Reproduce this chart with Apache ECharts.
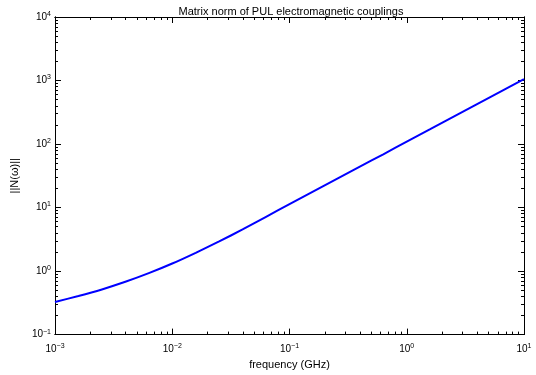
<!DOCTYPE html>
<html>
<head>
<meta charset="utf-8">
<script src="https://cdn.jsdelivr.net/npm/echarts@6/dist/echarts.min.js"></script>
<style>
  html, body { margin: 0; padding: 0; background: #fff; }
  #chart { width: 536px; height: 375px; }
</style>
</head>
<body>
<div id="chart"></div>
<script>
// frequency (GHz) and matrix norm values
const freq = [0.001, 0.001585, 0.002512, 0.003981, 0.00631, 0.01, 0.01585, 0.02512, 0.03981,
  0.0631, 0.1, 0.1585, 0.2512, 0.3981, 0.631, 1, 1.585, 2.512, 3.981, 6.31, 10];
const norm = [0.327, 0.405, 0.514, 0.678, 0.927, 1.315, 1.94, 2.93, 4.52,
  7.16, 11.3, 17.8, 28, 44, 69, 109, 171, 270, 425, 668, 1050];

// tick values
const xMajor = [0.001, 0.01, 0.1, 1, 10];
const yMajor = [0.1, 1, 10, 100, 1000, 10000];

const font = "'Liberation Sans', Arial, sans-serif";

// 2..9 x each decade between the major ticks
const minorOf = majors => {
  const out = [];
  for (let i = 0; i < majors.length - 1; i++) {
    for (let k = 2; k <= 9; k++) out.push(+(majors[i] * k).toPrecision(6));
  }
  return out;
};

const supLabel = v => {
  const e = Math.round(Math.log10(v));
  return "10{sup|" + (e < 0 ? "\u2212" + -e : e) + "}";
};

const labelRich = {
  fontFamily: font,
  fontSize: 10,
  color: "#000",
  rich: {
    sup: { fontFamily: font, fontSize: 7, verticalAlign: "top", padding: [0, 0, 6, 0] }
  }
};

// one log axis (major or minor ticks, bottom/top or left/right)
const logAxis = (min, max, position, ticks, len, extra = {}) => ({
  type: "log",
  logBase: 10,
  min,
  max,
  position,
  axisLine: { show: true, onZero: false, lineStyle: { color: "#000", width: 1 } },
  axisTick: { show: true, inside: true, length: len, customValues: ticks, lineStyle: { color: "#000", width: 1 } },
  axisLabel: { show: false },
  splitLine: { show: false },
  minorTick: { show: false },
  ...extra
});

const chart = echarts.init(document.getElementById("chart"), null, { renderer: "canvas" });

chart.setOption({
  backgroundColor: "#fff",
  animation: false,
  title: {
    text: "Matrix norm of PUL electromagnetic couplings",
    left: 286,
    top: 1,
    textAlign: "center",
    textStyle: { fontFamily: font, fontSize: 11, fontWeight: "normal", color: "#000" }
  },
  grid: { left: 55, right: 12, top: 17, bottom: 35 },
  xAxis: [
    logAxis(0.001, 10, "bottom", xMajor, 6, {
      name: "frequency (GHz)",
      nameLocation: "middle",
      nameGap: 23,
      nameTextStyle: { fontFamily: font, fontSize: 11, color: "#000" },
      axisLabel: { show: true, margin: 8, customValues: xMajor, formatter: supLabel, ...labelRich }
    }),
    logAxis(0.001, 10, "bottom", minorOf(xMajor), 3),
    logAxis(0.001, 10, "top", xMajor, 6),
    logAxis(0.001, 10, "top", minorOf(xMajor), 3)
  ],
  yAxis: [
    logAxis(0.1, 10000, "left", yMajor, 6, {
      name: "||N(\u03c9)||",
      nameLocation: "middle",
      nameGap: 35,
      nameTextStyle: { fontFamily: font, fontSize: 11, color: "#000" },
      axisLabel: { show: true, margin: 4, customValues: yMajor, formatter: supLabel, ...labelRich }
    }),
    logAxis(0.1, 10000, "left", minorOf(yMajor), 3),
    logAxis(0.1, 10000, "right", yMajor, 6),
    logAxis(0.1, 10000, "right", minorOf(yMajor), 3)
  ],
  series: [
    {
      type: "line",
      xAxisIndex: 0,
      yAxisIndex: 0,
      data: freq.map((f, i) => [f, norm[i]]),
      showSymbol: false,
      smooth: 0.2,
      lineStyle: { color: "#0000ff", width: 2 }
    }
  ]
});
</script>
</body>
</html>
